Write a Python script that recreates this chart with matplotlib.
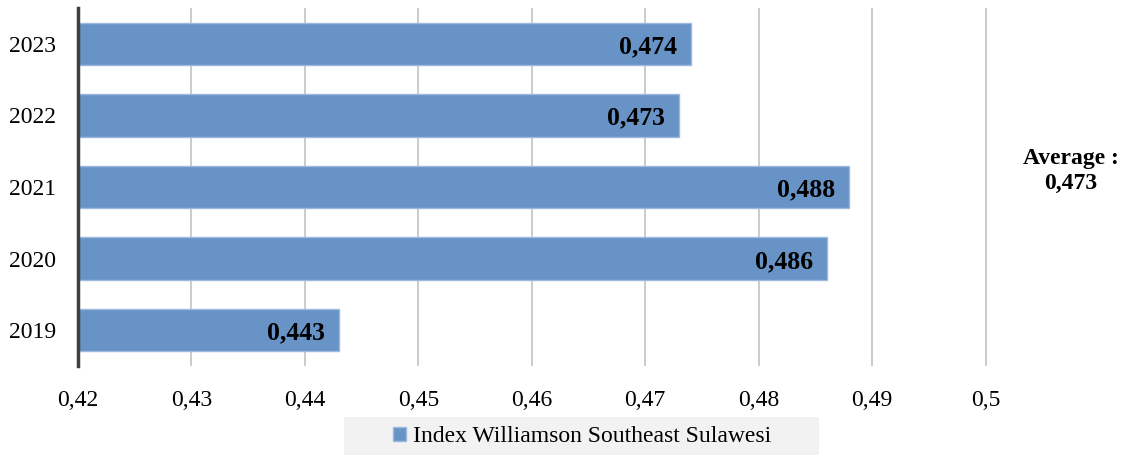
import matplotlib.pyplot as plt
from matplotlib.patches import Patch, Rectangle

plt.rcParams['font.family'] = ['Liberation Serif', 'DejaVu Serif']

years = ['2019', '2020', '2021', '2022', '2023']
values = [0.443, 0.486, 0.488, 0.473, 0.474]
labels = ['0,443', '0,486', '0,488', '0,473', '0,474']
xticks = [0.42, 0.43, 0.44, 0.45, 0.46, 0.47, 0.48, 0.49, 0.5]
xticklabels = ['0,42', '0,43', '0,44', '0,45', '0,46', '0,47', '0,48', '0,49', '0,5']
series_name = 'Index Williamson Southeast Sulawesi'
average_text = 'Average :\n0,473'

bar_color = '#6793c6'
edge_color = '#9db9de'

W, H = 1129, 455
fig = plt.figure(figsize=(W / 100, H / 100), dpi=100)
ax = fig.add_axes([78 / W, 1 - 366 / H, (1099 - 78) / W, (366 - 8) / H])

ax.barh(range(len(years)), [v - 0.42 for v in values], left=0.42,
        height=0.59, color=bar_color, edgecolor=edge_color, linewidth=1, zorder=3)
ax.set_ylim(-0.5, len(years) - 0.5)
ax.set_xlim(0.42, 0.51)
ax.set_yticks(range(len(years)))
ax.set_yticklabels(years, fontsize=17)
ax.set_xticks(xticks)
ax.set_xticklabels(xticklabels, fontsize=17)
ax.tick_params(length=0, pad=17, axis='x')
ax.tick_params(length=0, pad=16, axis='y')

for x in xticks[1:]:
    ax.axvline(x, color='#cbcbcb', linewidth=1.4, zorder=1)

for s in ['top', 'right', 'bottom']:
    ax.spines[s].set_visible(False)
ax.spines['left'].set_color('#3f3f3f')
ax.spines['left'].set_linewidth(2.5)
ax.spines['left'].set_zorder(4)

for i, (v, lab) in enumerate(zip(values, labels)):
    ax.annotate(lab, (v, i), xytext=(-10, -2), textcoords='offset points',
                ha='right', va='center', fontsize=18.5, fontweight='bold', zorder=5)

fig.text(1071 / W, 1 - 171 / H, average_text, ha='center', va='center',
         fontsize=17, fontweight='bold', linespacing=1.3)

# legend background box
fig.patches.append(Rectangle((344 / W, 0), (819 - 344) / W, (H - 417) / H,
                             transform=fig.transFigure, facecolor='#f2f2f2',
                             edgecolor='none', zorder=0))
fig.legend(handles=[Patch(facecolor=bar_color, edgecolor=edge_color, label=series_name)],
           loc='center', bbox_to_anchor=(582 / W, 1 - 437 / H),
           fontsize=17, frameon=False, handlelength=0.55,
           handleheight=0.55, handletextpad=0.3)

fig.savefig('out.png', dpi=100)
